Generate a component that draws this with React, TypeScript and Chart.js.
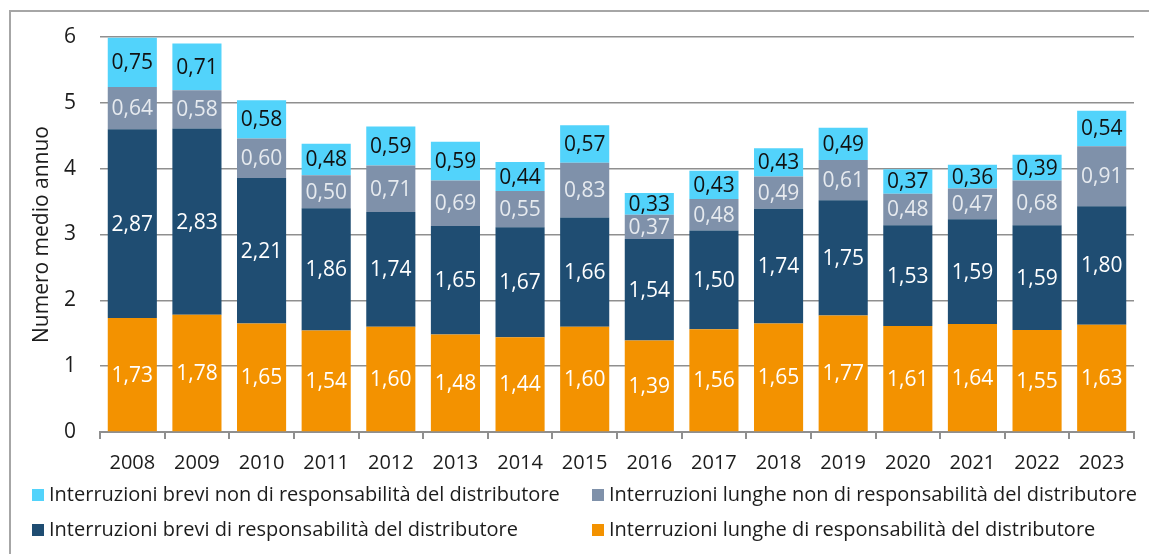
import React, { useEffect, useRef } from "react";
import { Chart, registerables } from "chart.js";

Chart.register(...registerables);

const categories = ["2008","2009","2010","2011","2012","2013","2014","2015","2016","2017","2018","2019","2020","2021","2022","2023"];
const lungheResp = [1.73,1.78,1.65,1.54,1.60,1.48,1.44,1.60,1.39,1.56,1.65,1.77,1.61,1.64,1.55,1.63];
const breviResp = [2.87,2.83,2.21,1.86,1.74,1.65,1.67,1.66,1.54,1.50,1.74,1.75,1.53,1.59,1.59,1.80];
const lungheNon = [0.64,0.58,0.60,0.50,0.71,0.69,0.55,0.83,0.37,0.48,0.49,0.61,0.48,0.47,0.68,0.91];
const breviNon = [0.75,0.71,0.58,0.48,0.59,0.59,0.44,0.57,0.33,0.43,0.43,0.49,0.37,0.36,0.39,0.54];
const yTicks = [0, 1, 2, 3, 4, 5, 6];

const seriesNames = [
  "Interruzioni lunghe di responsabilità del distributore",
  "Interruzioni brevi di responsabilità del distributore",
  "Interruzioni lunghe non di responsabilità del distributore",
  "Interruzioni brevi non di responsabilità del distributore",
];
const seriesColors = ["#F39200", "#1F4D72", "#7F91AA", "#52D3FB"];
const labelColors = ["#FFFFFF", "#FFFFFF", "#E6EAEF", "#111111"];

const FONT = "'Open Sans', 'Noto Sans', sans-serif";
const GRID = "#8f8f8f";
const TEXT = "#1c1c1c";

const fmt = (v: number) => v.toFixed(2).replace(".", ",");

const labelPlugin = {
  id: "segLabels",
  afterDatasetsDraw(chart: any) {
    const ctx = chart.ctx;
    ctx.save();
    ctx.font = `21px ${FONT}`;
    ctx.textAlign = "center";
    ctx.textBaseline = "middle";
    chart.data.datasets.forEach((ds: any, i: number) => {
      const meta = chart.getDatasetMeta(i);
      ctx.fillStyle = labelColors[i];
      meta.data.forEach((el: any, j: number) => {
        const y = (el.y + el.base) / 2;
        ctx.fillText(fmt(ds.data[j]), el.x, y + 1);
      });
    });
    ctx.restore();
  },
};

const legendPlugin = {
  id: "customLegend",
  afterDraw(chart: any) {
    const ctx = chart.ctx;
    ctx.save();
    ctx.font = `20px ${FONT}`;
    ctx.textBaseline = "middle";
    ctx.textAlign = "left";
    const items = [
      { idx: 3, x: 32, y: 495 },
      { idx: 2, x: 592, y: 495 },
      { idx: 1, x: 32, y: 530 },
      { idx: 0, x: 592, y: 530 },
    ];
    items.forEach((it) => {
      ctx.fillStyle = seriesColors[it.idx];
      ctx.fillRect(it.x, it.y - 6, 12, 12);
      ctx.fillStyle = TEXT;
      ctx.fillText(seriesNames[it.idx], it.x + 17, it.y);
    });
    ctx.restore();
  },
};

export default function App() {
  const ref = useRef<HTMLCanvasElement>(null);
  useEffect(() => {
    if (!ref.current) return;
    const chart = new Chart(ref.current, {
      type: "bar",
      data: {
        labels: categories,
        datasets: [lungheResp, breviResp, lungheNon, breviNon].map((d, i) => ({
          label: seriesNames[i],
          data: d,
          backgroundColor: seriesColors[i],
          borderWidth: 0,
          barPercentage: 0.76,
          categoryPercentage: 1,
        })),
      },
      options: {
        animation: false,
        responsive: false,
        maintainAspectRatio: false,
        layout: { padding: { left: 0, right: 15, top: 37, bottom: 0 } },
        plugins: { legend: { display: false }, tooltip: { enabled: false } },
        scales: {
          x: {
            stacked: true,
            offset: true,
            border: { display: true, color: GRID, width: 2 },
            grid: {
              offset: true,
              drawOnChartArea: false,
              drawTicks: true,
              tickLength: 7,
              color: GRID,
              lineWidth: 2,
            },
            ticks: {
              padding: 12,
              color: TEXT,
              font: { family: FONT, size: 20 },
              maxRotation: 0,
            },
            afterFit: (s: any) => {
              s.height = 122;
            },
          },
          y: {
            stacked: true,
            min: 0,
            max: 6,
            border: { display: false },
            grid: { color: GRID, lineWidth: 1.6, drawTicks: false },
            afterBuildTicks: (s: any) => {
              s.ticks = yTicks.map((v) => ({ value: v }));
            },
            ticks: {
              padding: 24,
              color: TEXT,
              font: { family: FONT, size: 21 },
              callback: (v: any) => String(v),
            },
            title: {
              display: true,
              text: "Numero medio annuo",
              color: TEXT,
              font: { family: FONT, size: 21 },
              padding: { top: 29, bottom: 0 },
            },
            afterFit: (s: any) => {
              s.width = 100;
            },
          },
        },
      },
      plugins: [labelPlugin, legendPlugin],
    });
    return () => chart.destroy();
  }, []);

  return (
    <div style={{ position: "fixed", left: 0, top: 0, width: 1149, height: 554, background: "#fff", overflow: "hidden" }}>
      <div
        style={{
          position: "absolute",
          left: 9,
          top: 10,
          width: 1160,
          height: 700,
          border: "2px solid #a6a6a6",
          boxSizing: "border-box",
        }}
      />
      <canvas ref={ref} width={1149} height={554} style={{ position: "absolute", left: 0, top: 0 }} />
    </div>
  );
}
